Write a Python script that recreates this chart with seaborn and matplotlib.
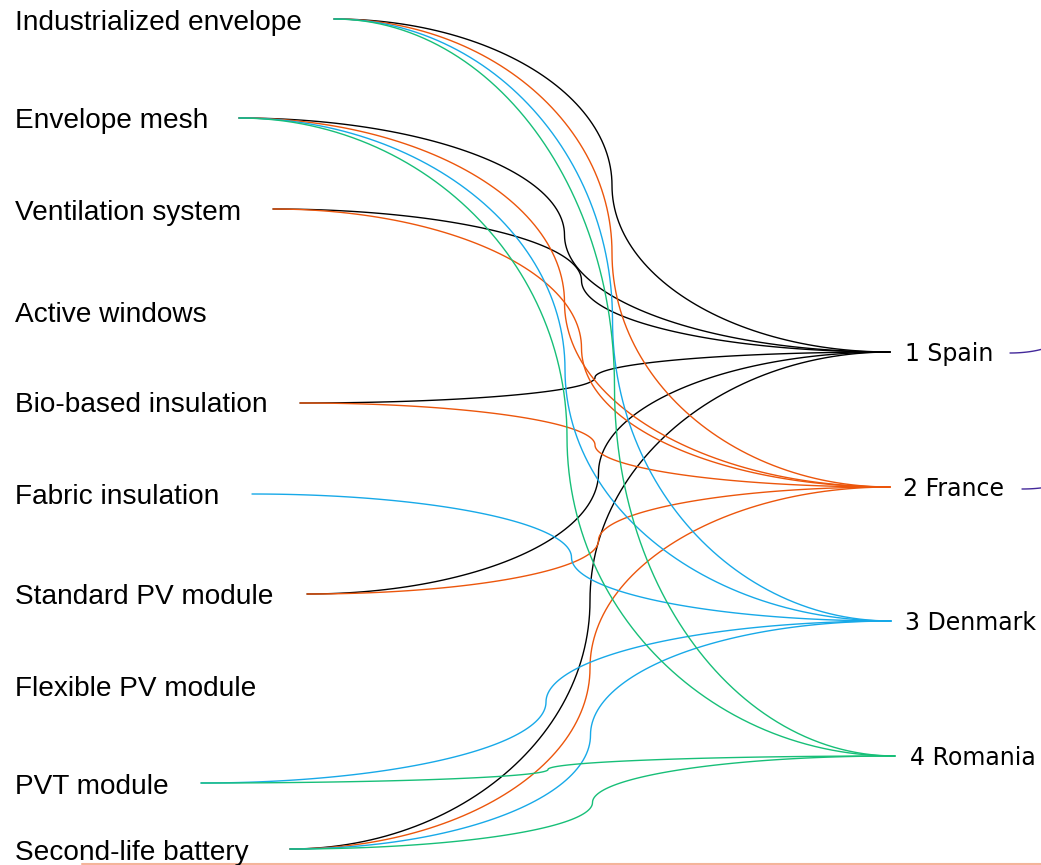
import numpy as np
import pandas as pd
import matplotlib
matplotlib.use("Agg")
import matplotlib.pyplot as plt
import seaborn as sns

# ---------------- data ----------------
technologies = ["Industrialized envelope", "Envelope mesh", "Ventilation system",
                "Active windows", "Bio-based insulation", "Fabric insulation",
                "Standard PV module", "Flexible PV module", "PVT module",
                "Second-life battery"]
countries = ["1 Spain", "2 France", "3 Denmark", "4 Romania"]
link_source = ["Industrialized envelope", "Industrialized envelope", "Industrialized envelope", "Industrialized envelope",
               "Envelope mesh", "Envelope mesh", "Envelope mesh", "Envelope mesh",
               "Ventilation system", "Ventilation system",
               "Bio-based insulation", "Bio-based insulation",
               "Fabric insulation",
               "Standard PV module", "Standard PV module",
               "PVT module", "PVT module",
               "Second-life battery", "Second-life battery", "Second-life battery", "Second-life battery"]
link_target = ["1 Spain", "2 France", "3 Denmark", "4 Romania",
               "1 Spain", "2 France", "3 Denmark", "4 Romania",
               "1 Spain", "2 France",
               "1 Spain", "2 France",
               "3 Denmark",
               "1 Spain", "2 France",
               "3 Denmark", "4 Romania",
               "1 Spain", "2 France", "3 Denmark", "4 Romania"]
country_colors = {"1 Spain": "#000000", "2 France": "#ec560c",
                  "3 Denmark": "#17a9e8", "4 Romania": "#17bf78"}

# ---------------- layout (pixel space) ----------------
W, H = 1041, 865
tech_label_y = [22.5, 120.5, 212.5, 314.5, 405.5, 496.5, 596.5, 688.5, 786.5, 852.5]
tech_line_x = [334, 239, 273, 0, 300, 252, 307, 0, 201, 290]
tech_line_y = [19, 118, 209, 312, 403, 494, 594, 686, 783, 849]
country_y = [352, 487, 621, 756]
country_label_y = [354, 489, 623, 758]
country_line_x = [890, 890, 891, 895]
country_label_x = [905, 903, 905, 910]


def bezier(p0, p1, p2, p3, n=60):
    t = np.linspace(0, 1, n)[:, None]
    return ((1 - t) ** 3) * p0 + 3 * ((1 - t) ** 2) * t * p1 + 3 * (1 - t) * t ** 2 * p2 + t ** 3 * p3


def s_curve(x0, y0, x1, y1, k=0.5523):
    xm, ym = (x0 + x1) / 2, (y0 + y1) / 2
    a = bezier(np.array([x0, y0]), np.array([x0 + k * (xm - x0), y0]),
               np.array([xm, ym - k * (ym - y0)]), np.array([xm, ym]))
    b = bezier(np.array([xm, ym]), np.array([xm, ym + k * (y1 - ym)]),
               np.array([x1 - k * (x1 - xm), y1]), np.array([x1, y1]))
    return np.vstack([a, b[1:]])


rows = []
for i, (s, t) in enumerate(zip(link_source, link_target)):
    si = technologies.index(s)
    ci = countries.index(t)
    pts = s_curve(tech_line_x[si], tech_line_y[si], country_line_x[ci], country_y[ci])
    for j, (x, y) in enumerate(pts):
        rows.append({"link": i, "order": j, "x": x, "y": y, "country": t})
df = pd.DataFrame(rows)

sns.set_theme(style="white")
plt.rcParams['font.family'] = ['Liberation Sans', 'DejaVu Sans']

fig = plt.figure(figsize=(W / 100, H / 100), dpi=100)
ax = fig.add_axes([0, 0, 1, 1])

sns.lineplot(data=df, x="x", y="y", hue="country", units="link", estimator=None,
             sort=False, palette=country_colors, linewidth=1.0, legend=False, ax=ax)

# stubs of outgoing links leaving the canvas on the right
stub = s_curve(1010, 353, 1110, 320)
ax.plot(stub[:, 0], stub[:, 1], color="#43289a", lw=1.0)
stub2 = s_curve(1022, 489, 1100, 472)
ax.plot(stub2[:, 0], stub2[:, 1], color="#43289a", lw=1.0)
ax.plot([82, W], [864, 864], color="#f4b49a", lw=1.5)

for name, y in zip(technologies, tech_label_y):
    ax.text(15, y, name, fontsize=20.2, ha="left", va="center", color="#000000",
            family=['Liberation Sans', 'DejaVu Sans'])
for name, x, y in zip(countries, country_label_x, country_label_y):
    ax.text(x, y, name, fontsize=17, ha="left", va="center", color="#000000",
            family=['DejaVu Sans'])

ax.set_xlim(0, W)
ax.set_ylim(H, 0)
ax.axis("off")
fig.savefig("out.png", dpi=100)
